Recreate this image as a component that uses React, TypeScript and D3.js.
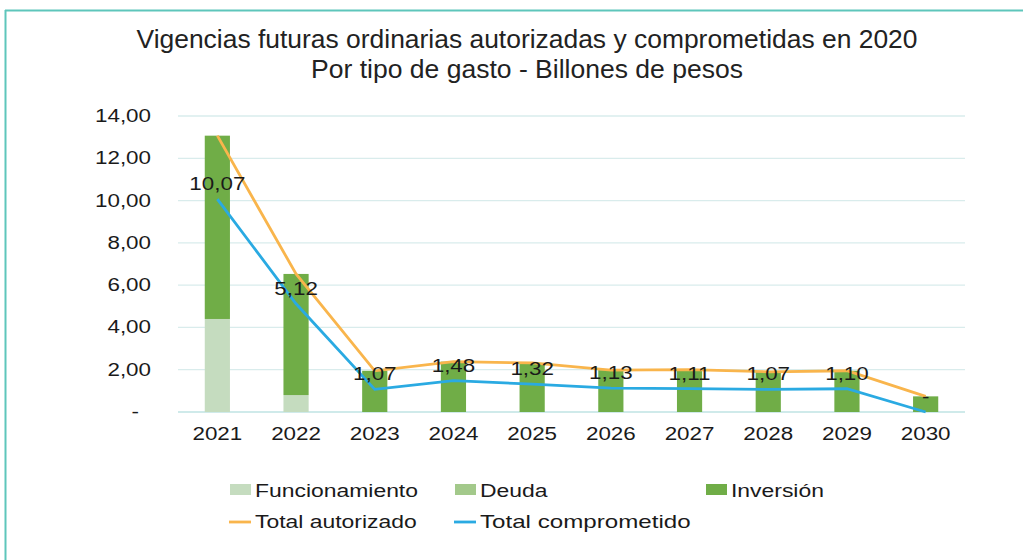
import React from "react";
import * as d3 from "d3";

const years = ["2021","2022","2023","2024","2025","2026","2027","2028","2029","2030"];
const funcionamiento = [4.40, 0.80, 0, 0, 0, 0, 0, 0, 0, 0];
const deuda = [0, 0, 0, 0, 0, 0, 0, 0, 0, 0];
const inversion = [8.67, 5.73, 1.95, 2.38, 2.32, 1.98, 2.00, 1.90, 1.95, 0.74];
const totalAutorizado = [13.07, 6.53, 1.95, 2.38, 2.32, 1.98, 2.00, 1.90, 1.95, 0.74];
const totalComprometido = [10.07, 5.12, 1.07, 1.48, 1.32, 1.13, 1.11, 1.07, 1.10, 0];
const yTicks = [0, 2, 4, 6, 8, 10, 12, 14];

const titleLines = [
  "Vigencias futuras ordinarias autorizadas y comprometidas en 2020",
  "Por tipo de gasto - Billones de pesos",
];

const C_FUN = "#c5dcbf";
const C_DEU = "#a3c98b";
const C_INV = "#70ad47";
const C_AUT = "#f9b54c";
const C_COM = "#2aaae2";

const fmt = (v: number) => (v === 0 ? "-" : d3.format(".2f")(v).replace(".", ","));
const FONT = "'Liberation Sans', Arial, sans-serif";

function T({ x, y, anchor = "start", sx = 1.28, children }: any) {
  return (
    <g transform={`translate(${x},${y}) scale(${sx},1)`}>
      <text textAnchor={anchor} fontFamily={FONT} fontSize={17.5} fill="#1a1a1a">{children}</text>
    </g>
  );
}

export default function App() {
  const W = 1023, H = 560;
  const left = 178, right = 965, top = 116, bottom = 412;
  const x = d3.scaleBand<string>().domain(years).range([left, right]).paddingInner(0.68).paddingOuter(0.34);
  const y = d3.scaleLinear().domain([0, 14]).range([bottom, top]);
  const cx = (yr: string) => (x(yr) as number) + x.bandwidth() / 2;

  const stackData = years.map((yr, i) => ({ yr, f: funcionamiento[i], d: deuda[i], inv: inversion[i] }));
  const stack = d3.stack<any>().keys(["f", "d", "inv"])(stackData);
  const colors = [C_FUN, C_DEU, C_INV];

  const line = d3.line<number>().x((_, i) => cx(years[i])).y((v) => y(v));

  return (
    <svg width={W} height={H} style={{ position: "absolute", left: 0, top: 0, background: "#fff" }}>
      <rect x={0} y={0} width={W} height={H} fill="#fff" />
      <line x1={5} x2={W} y1={10.5} y2={10.5} stroke="#5ec6bb" strokeWidth={2} />
      <line x1={5.5} x2={5.5} y1={10} y2={H} stroke="#5ec6bb" strokeWidth={2} />
      {titleLines.map((t, i) => (
        <text key={i} x={527} y={48 + i * 30} textAnchor="middle" fontFamily={FONT} fontSize={25} fill="#222"
          textLength={i === 0 ? 781 : 432} lengthAdjust="spacingAndGlyphs">{t}</text>
      ))}
      {yTicks.map((t) => (
        <g key={t}>
          <line x1={left} x2={right} y1={y(t)} y2={y(t)} stroke={t === 0 ? "#bfe3e3" : "#d9ecec"} strokeWidth={1.3} />
          <T x={t === 0 ? 139 : 151} y={y(t) + 6} anchor="end">{fmt(t)}</T>
        </g>
      ))}
      {stack.map((s, k) => (
        <g key={k} fill={colors[k]}>
          {s.map((d, i) => d[1] - d[0] > 0 ? (
            <rect key={i} x={x(years[i])} width={x.bandwidth()} y={y(d[1])} height={y(d[0]) - y(d[1])} />
          ) : null)}
        </g>
      ))}
      <path d={line(totalAutorizado) || ""} fill="none" stroke={C_AUT} strokeWidth={2.8} />
      <path d={line(totalComprometido) || ""} fill="none" stroke={C_COM} strokeWidth={2.8} />
      {totalComprometido.map((v, i) => (
        <T key={i} x={cx(years[i])} y={y(v) - 9} anchor="middle">{fmt(v)}</T>
      ))}
      {years.map((yr) => (
        <T key={yr} x={cx(yr)} y={440} anchor="middle">{yr}</T>
      ))}
      {/* legend */}
      <rect x={230} y={484} width={21} height={11} fill={C_FUN} />
      <T x={255} y={497} sx={1.31}>Funcionamiento</T>
      <rect x={455} y={484} width={21} height={11} fill={C_DEU} />
      <T x={480} y={497} sx={1.31}>Deuda</T>
      <rect x={706} y={484} width={21} height={11} fill={C_INV} />
      <T x={731} y={497} sx={1.31}>Inversión</T>
      <line x1={229} x2={251} y1={522} y2={522} stroke={C_AUT} strokeWidth={2.8} />
      <T x={255} y={528} sx={1.31}>Total autorizado</T>
      <line x1={454} x2={476} y1={522} y2={522} stroke={C_COM} strokeWidth={2.8} />
      <T x={480} y={528} sx={1.38}>Total comprometido</T>
    </svg>
  );
}
